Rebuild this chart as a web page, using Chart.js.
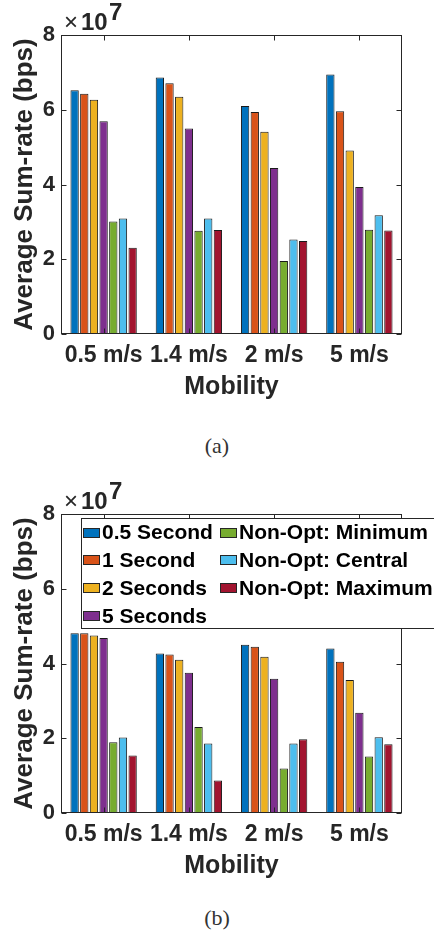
<!DOCTYPE html>
<html>
<head>
<meta charset="utf-8">
<script src="https://cdn.jsdelivr.net/npm/chart.js@4.4.0/dist/chart.umd.min.js"></script>
<style>
  body { margin: 0; background: #fff; width: 434px; height: 934px; overflow: hidden; position: relative; }
  .panel { position: absolute; left: 0; width: 434px; height: 410px; }
  .cap { position: absolute; left: 0; width: 434px; text-align: center; font-family: 'Liberation Serif', 'DejaVu Serif', serif; font-size: 22px; line-height: 24px; color: #333; }
</style>
</head>
<body>
<div class="panel" style="top:0px"><canvas id="chartA" width="434" height="410"></canvas></div>
<div class="cap" style="top:434px">(a)</div>
<div class="panel" style="top:479px"><canvas id="chartB" width="434" height="410"></canvas></div>
<div class="cap" style="top:906px">(b)</div>

<script>
// categories and series
const mobility = ['0.5 m/s', '1.4 m/s', '2 m/s', '5 m/s'];
const seriesNames = ['0.5 Second', '1 Second', '2 Seconds', '5 Seconds',
  'Non-Opt: Minimum', 'Non-Opt: Central', 'Non-Opt: Maximum'];
const seriesColors = ['#0072BD', '#D95319', '#EDB120', '#7E2F8E', '#77AC30', '#4DBEEE', '#A2142F'];
const yTicks = [0, 2, 4, 6, 8];

// (a) average sum-rate, x 1e7 bps
const rateA_05s = [6.52, 6.86, 6.10, 6.94];
const rateA_1s  = [6.43, 6.71, 5.94, 5.96];
const rateA_2s  = [6.27, 6.35, 5.41, 4.91];
const rateA_5s  = [5.69, 5.50, 4.44, 3.93];
const rateA_min = [3.01, 2.76, 1.95, 2.79];
const rateA_cen = [3.09, 3.09, 2.53, 3.18];
const rateA_max = [2.31, 2.78, 2.49, 2.77];

// (b) average sum-rate, x 1e7 bps
const rateB_05s = [4.81, 4.27, 4.50, 4.40];
const rateB_1s  = [4.81, 4.24, 4.45, 4.05];
const rateB_2s  = [4.75, 4.10, 4.18, 3.56];
const rateB_5s  = [4.68, 3.75, 3.59, 2.68];
const rateB_min = [1.89, 2.30, 1.19, 1.51];
const rateB_cen = [2.02, 1.86, 1.86, 2.03];
const rateB_max = [1.54, 0.87, 1.97, 1.84];

const axisColor = '#262626';
const fam = "'Liberation Sans', Arial, sans-serif";
Chart.defaults.font.family = fam;
Chart.defaults.color = axisColor;

// box round the axes, inward ticks and the x10^7 mark
const framePlugin = {
  id: 'frame',
  afterDraw(chart) {
    const { ctx, chartArea: a, scales: { x, y } } = chart;
    ctx.save();
    ctx.strokeStyle = axisColor;
    ctx.lineWidth = 1;
    const L = Math.round(a.left) + 0.5, R = Math.round(a.right) - 0.5;
    const T = Math.round(a.top) + 0.5, B = Math.round(a.bottom) - 0.5;
    ctx.strokeRect(L, T, R - L, B - T);
    ctx.beginPath();
    y.ticks.forEach(t => {
      const py = Math.round(y.getPixelForValue(t.value)) + 0.5;
      ctx.moveTo(L, py); ctx.lineTo(L + 5, py);
      ctx.moveTo(R, py); ctx.lineTo(R - 5, py);
    });
    x.ticks.forEach((t, i) => {
      const px = Math.round(x.getPixelForValue(i)) + 0.5;
      ctx.moveTo(px, B); ctx.lineTo(px, B - 5);
      ctx.moveTo(px, T); ctx.lineTo(px, T + 5);
    });
    ctx.stroke();

    ctx.fillStyle = axisColor;
    ctx.textAlign = 'left';
    ctx.textBaseline = 'alphabetic';
    ctx.font = '24px ' + fam;
    ctx.fillText('\u00d7', a.left + 3, a.top - 5);
    ctx.font = 'bold 24px ' + fam;
    ctx.fillText('10', a.left + 20, a.top - 5);
    ctx.fillText('7', a.left + 48, a.top - 15);
    ctx.restore();
  }
};

// two-column boxed legend inside the axes (drawn over the frame)
const boxLegend = {
  id: 'boxLegend',
  afterDraw(chart, args, opts) {
    const { ctx } = chart;
    ctx.save();
    ctx.fillStyle = '#fff';
    ctx.fillRect(opts.left, opts.top, opts.width, opts.height);
    ctx.strokeStyle = axisColor;
    ctx.lineWidth = 1;
    ctx.strokeRect(opts.left + 0.5, opts.top + 0.5, opts.width, opts.height);
    ctx.font = 'bold 21px ' + fam;
    ctx.textBaseline = 'middle';
    ctx.textAlign = 'left';
    chart.data.datasets.forEach((ds, i) => {
      const col = i < 4 ? 0 : 1;
      const row = i < 4 ? i : i - 4;
      const sx = opts.left + opts.colX[col];
      const cy = opts.top + opts.firstRow + row * opts.rowH;
      ctx.fillStyle = ds.backgroundColor;
      ctx.fillRect(sx, Math.round(cy - 5), 17, 10);
      ctx.strokeStyle = axisColor;
      ctx.strokeRect(sx + 0.5, Math.round(cy - 5) + 0.5, 16, 9);
      ctx.fillStyle = '#000';
      ctx.fillText(ds.label, sx + 19, cy + 1);
    });
    ctx.restore();
  }
};

function makeChart(id, series, withLegend) {
  const datasets = series.map((vals, i) => ({
    label: seriesNames[i],
    data: vals,
    backgroundColor: seriesColors[i],
    borderColor: '#1a1a1a',
    borderWidth: 1,
    borderSkipped: false,
    barPercentage: 0.86,
    categoryPercentage: 0.794
  }));
  return new Chart(document.getElementById(id), {
    type: 'bar',
    data: { labels: mobility, datasets: datasets },
    plugins: withLegend ? [framePlugin, boxLegend] : [framePlugin],
    options: {
      responsive: false,
      animation: false,
      layout: { padding: { left: 0, top: 35, right: 32, bottom: 6 } },
      plugins: {
        legend: { display: false },
        tooltip: { enabled: false },
        boxLegend: { left: 81, top: 39, width: 380, height: 110, colX: [2, 139], firstRow: 14.5, rowH: 27.8 }
      },
      scales: {
        x: {
          offset: true,
          grid: { display: false, drawTicks: false },
          border: { display: false },
          ticks: { color: axisColor, font: { size: 23, weight: 'bold' }, padding: 8, maxRotation: 0, minRotation: 0, autoSkip: false },
          title: { display: true, text: 'Mobility', color: axisColor, font: { size: 25, weight: 'bold' }, padding: { top: 0, bottom: 2 } },
          afterFit: s => { s.height = 70; }
        },
        y: {
          min: 0,
          max: 8,
          grid: { display: false, drawTicks: false },
          border: { display: false },
          afterBuildTicks: s => { s.ticks = yTicks.map(v => ({ value: v })); },
          ticks: { color: axisColor, font: { size: 22, weight: 'bold' }, padding: 6 },
          title: { display: true, text: 'Average Sum-rate (bps)', color: axisColor, font: { size: 26, weight: 'bold' }, padding: { top: 9, bottom: 0 } },
          afterFit: s => { s.width = 61; }
        }
      }
    }
  });
}

makeChart('chartA', [rateA_05s, rateA_1s, rateA_2s, rateA_5s, rateA_min, rateA_cen, rateA_max], false);
makeChart('chartB', [rateB_05s, rateB_1s, rateB_2s, rateB_5s, rateB_min, rateB_cen, rateB_max], true);
</script>
</body>
</html>
